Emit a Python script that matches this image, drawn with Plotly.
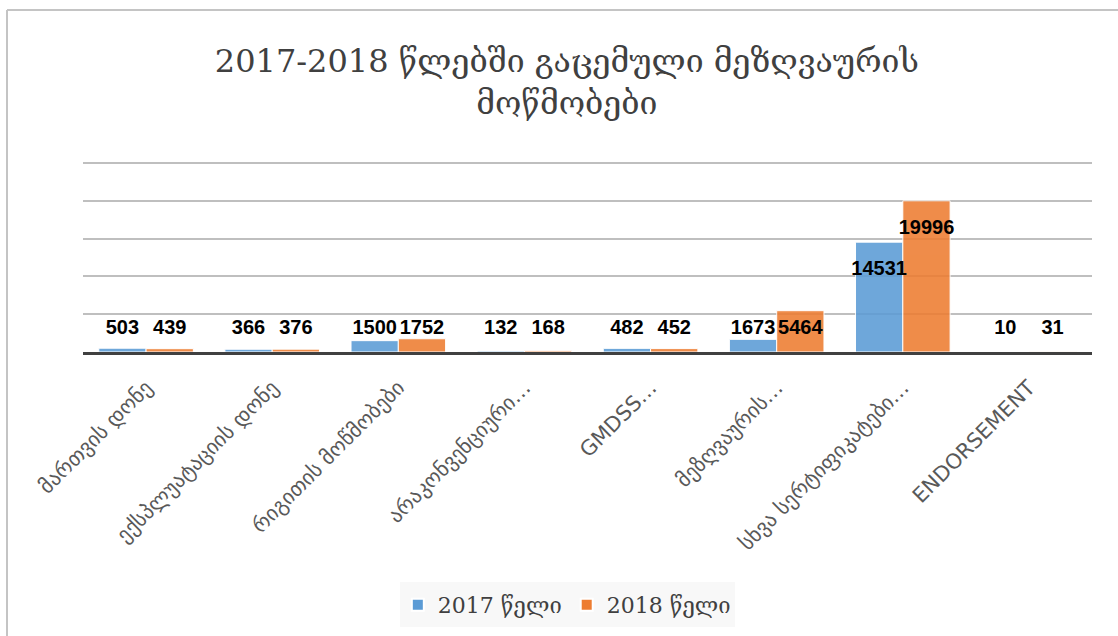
import plotly.graph_objects as go

categories = [
    "მართვის დონე",
    "ექსპლუატაციის დონე",
    "რიგითის მოწმობები",
    "არაკონვენციური…",
    "GMDSS…",
    "მეზღვაურის…",
    "სხვა სერტიფიკატები…",
    "ENDORSEMENT",
]
values_2017 = [503, 366, 1500, 132, 482, 1673, 14531, 10]
values_2018 = [439, 376, 1752, 168, 452, 5464, 19996, 31]
series_names = ["2017 წელი", "2018 წელი"]
y_ticks = [0, 5000, 10000, 15000, 20000, 25000]

W, H = 1118, 636
BLUE = "#5B9BD5"
ORANGE = "#ED7D31"
BAR_W = 0.375
Y_MAX = 25600
PX_PER_UNIT = 37.8 / 5000


def label_y(v):
    # excel "inside end" labels, kept above the axis for short bars
    return max(v - 3700, 3000)


fig = go.Figure()

idx = list(range(len(categories)))

for vals, name, color, off in [
    (values_2017, series_names[0], BLUE, -BAR_W),
    (values_2018, series_names[1], ORANGE, 0.0),
]:
    fig.add_trace(go.Bar(
        x=idx,
        y=vals,
        name=name,
        width=BAR_W,
        offset=off,
        marker=dict(color=color, opacity=0.88, line=dict(color="white", width=1)),
    ))
    fig.add_trace(go.Scatter(
        x=[i + off + BAR_W / 2 for i in idx],
        y=[label_y(v) for v in vals],
        text=[str(v) for v in vals],
        mode="text",
        textposition="middle center",
        textfont=dict(family="Liberation Sans", size=20, color="black", weight="bold"),
        showlegend=False,
        hoverinfo="skip",
    ))

fig.update_layout(
    width=W,
    height=H,
    margin=dict(l=0, r=0, t=0, b=0, autoexpand=False),
    paper_bgcolor="white",
    plot_bgcolor="white",
    title=dict(
        text="2017-2018 წლებში გაცემული მეზღვაურის<br>მოწმობები",
        x=0.507,
        xanchor="center",
        y=1 - 72 / H,
        yanchor="middle",
        font=dict(family="DejaVu Serif", size=32, color="#404040"),
    ),
    showlegend=True,
    legend=dict(
        orientation="h",
        x=0.507,
        xanchor="center",
        y=1 - 605 / H,
        yanchor="middle",
        bgcolor="rgba(0,0,0,0)",
        font=dict(family="DejaVu Serif", size=22, color="#404040"),
        itemsizing="constant",
    ),
    bargap=0.25,
    xaxis=dict(
        domain=[83 / W, 1092 / W],
        range=[-0.5, len(categories) - 0.5],
        tickvals=idx,
        ticktext=categories,
        tickangle=-45,
        tickfont=dict(family="DejaVu Sans", size=21, color="#595959"),
        showgrid=False,
        showline=True,
        linecolor="#404040",
        linewidth=3,
        ticks="",
        ticklabelstandoff=12,
        automargin=False,
        fixedrange=True,
    ),
    yaxis=dict(
        domain=[1 - 352 / H, 1 - (352 - Y_MAX * PX_PER_UNIT) / H],
        range=[0, Y_MAX],
        tickvals=y_ticks,
        showticklabels=False,
        showgrid=True,
        gridcolor="#BFBFBF",
        gridwidth=2,
        zeroline=False,
        automargin=False,
        fixedrange=True,
    ),
    shapes=[
        dict(type="rect", xref="paper", yref="paper",
             x0=400 / W, x1=735 / W, y0=1 - 627 / H, y1=1 - 582 / H,
             fillcolor="#F8F8F8", line=dict(width=0), layer="below"),
        dict(type="line", xref="paper", yref="paper",
             x0=7 / W, x1=1, y0=1 - 10 / H, y1=1 - 10 / H,
             line=dict(color="#C4C4C4", width=2)),
        dict(type="line", xref="paper", yref="paper",
             x0=7 / W, x1=7 / W, y0=0, y1=1 - 10 / H,
             line=dict(color="#C4C4C4", width=2)),
    ],
)

# page body has an 8px default margin; drop it so the figure sits at 0,0
fig.write_html(
    "out.html",
    config={"displayModeBar": False},
    post_script="document.body.style.margin='0';",
)
